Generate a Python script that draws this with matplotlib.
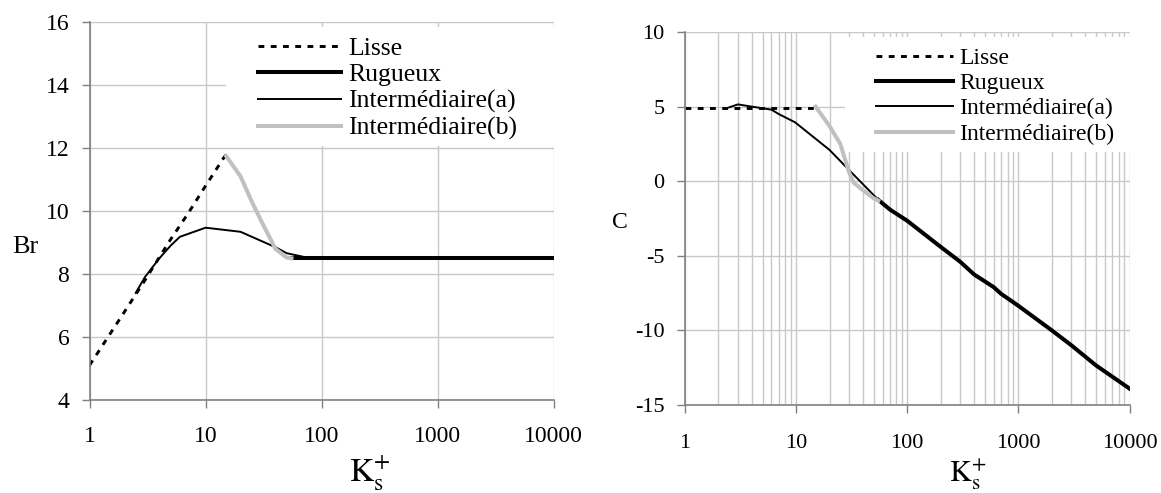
import numpy as np
import matplotlib as mpl
import matplotlib.pyplot as plt
from matplotlib.patches import Rectangle
from matplotlib.ticker import FixedLocator, NullFormatter, LogLocator
mpl.use('Agg')
mpl.rcParams['font.family'] = ['Liberation Serif', 'DejaVu Serif']
mpl.rcParams['mathtext.fontset'] = 'stix'
mpl.rcParams['axes.unicode_minus'] = False

# --- donnees Br (gauche) ---
ks_lisse_br = [1, 2, 3, 5, 7, 10, 15]
br_lisse = [5.1, 6.8, 7.8, 9.1, 9.9, 10.8, 11.8]
ks_rug_br = [55, 100, 1000, 10000]
br_rug = [8.5, 8.5, 8.5, 8.5]
ks_inta_br = [2.5, 3, 4, 5, 6, 10, 20, 40, 50, 75, 100]
br_inta = [7.4, 7.9, 8.5, 8.9, 9.18, 9.47, 9.34, 8.85, 8.66, 8.52, 8.5]
ks_intb_br = [15, 20, 25, 30, 40, 50, 55]
br_intb = [11.75, 11.1, 10.3, 9.7, 8.8, 8.52, 8.5]

# --- donnees C (droite) ---
ks_lisse_c = [1, 15]
c_lisse = [4.93, 4.93]
ks_rug_c = [55, 70, 100, 200, 300, 400, 600, 700, 1000, 2000, 3000, 5000, 10000]
c_rug = [-1.25, -1.9, -2.65, -4.4, -5.4, -6.25, -7.1, -7.55, -8.35, -10.0, -11.0, -12.35, -13.9]
ks_inta_c = [2.5, 3, 4, 6, 7, 9.8, 20, 30, 40, 55]
c_inta = [4.95, 5.15, 5.0, 4.8, 4.5, 3.95, 2.1, 0.75, -0.2, -1.25]
ks_intb_c = [15, 20, 25, 30, 33, 40, 50, 55]
c_intb = [5.0, 3.7, 2.5, 0.6, -0.1, -0.6, -1.15, -1.3]

labels = ['Lisse', 'Rugueux', 'Interm\u00e9diaire(a)', 'Interm\u00e9diaire(b)']
decades = [1, 10, 100, 1000, 10000]
grey = '#c0c0c0'
gridc = '#c8c8c8'

fig = plt.figure(figsize=(11.61, 4.93), dpi=100)
ax1 = fig.add_axes([0.0771, 0.1886, 0.3999, 0.7668])
ax2 = fig.add_axes([0.5899, 0.1785, 0.3830, 0.7565])


def style_axes(ax, yticks, ylim, fs_x, fs_y, xpad):
    ax.set_xscale('log')
    ax.set_xlim(1, 10000)
    ax.set_ylim(*ylim)
    ax.xaxis.set_major_locator(FixedLocator(decades))
    ax.set_xticklabels([str(d) for d in decades])
    ax.set_yticks(yticks)
    ax.set_yticklabels([str(v) for v in yticks])
    ax.xaxis.set_minor_formatter(NullFormatter())
    for s in ['top', 'right']:
        ax.spines[s].set_visible(False)
    for s in ['left', 'bottom']:
        ax.spines[s].set_color('#808080')
        ax.spines[s].set_linewidth(1.2)
    ax.tick_params(axis='both', which='major', direction='out', length=6,
                   width=1, color='#808080')
    ax.tick_params(axis='x', which='major', pad=xpad, labelsize=fs_x)
    ax.tick_params(axis='y', which='major', pad=8.5, labelsize=fs_y)
    ax.tick_params(axis='x', which='minor', length=0)
    ax.set_axisbelow(True)


def add_legend(ax, x, y, fs, ls, box):
    # fond blanc du cadre de legende (facon Excel, marges asymetriques)
    ax.add_patch(Rectangle((box[0], box[1]), box[2] - box[0], box[3] - box[1],
                           transform=ax.transAxes, facecolor='white',
                           edgecolor='none', zorder=1, clip_on=False))
    leg = ax.legend(labels, loc='upper left', bbox_to_anchor=(x, y), fontsize=fs,
                    frameon=False, handlelength=3.25, handletextpad=0.25,
                    labelspacing=ls, borderpad=0.3, borderaxespad=0)
    return leg


# ----- gauche -----
style_axes(ax1, [4, 6, 8, 10, 12, 14, 16], (4, 16), 17, 17, 13)
ax1.xaxis.set_minor_locator(FixedLocator([]))
ax1.grid(True, which='major', color=gridc, lw=1)
ax1.plot(ks_lisse_br, br_lisse, color='black', lw=2.1, dashes=(2, 2.2))
ax1.plot(ks_rug_br, br_rug, color='black', lw=2.9)
ax1.plot(ks_inta_br, br_inta, color='black', lw=1.4)
ax1.plot(ks_intb_br, br_intb, color=grey, lw=2.9)
add_legend(ax1, 0.346, 0.981, 18.5, 0.14, (0.294, 0.672, 1.003, 0.987))
ax1.text(-0.139, 0.405, 'Br', transform=ax1.transAxes, fontsize=19,
         ha='center', va='center')
ax1.text(0.604, -0.217, r'$\mathrm{K}_{\mathrm{s}}^{+}$', transform=ax1.transAxes,
         fontsize=24, ha='center', va='baseline')

# ----- droite -----
style_axes(ax2, [-15, -10, -5, 0, 5, 10], (-15, 10), 16, 16, 15)
ax2.xaxis.set_minor_locator(LogLocator(base=10, subs=np.arange(2, 10)))
ax2.grid(True, which='major', color=gridc, lw=1)
ax2.grid(True, which='minor', axis='x', color=gridc, lw=1)
ax2.plot(ks_lisse_c, c_lisse, color='black', lw=2.1, dashes=(2, 2.2))
ax2.plot(ks_rug_c, c_rug, color='black', lw=2.9)
ax2.plot(ks_inta_c, c_inta, color='black', lw=1.4)
ax2.plot(ks_intb_c, c_intb, color=grey, lw=2.9)
add_legend(ax2, 0.415, 0.978, 17, 0.16, (0.36, 0.678, 1.003, 0.987))
ax2.text(-0.146, 0.488, 'C', transform=ax2.transAxes, fontsize=17,
         ha='center', va='center')
ax2.text(0.637, -0.206, r'$\mathrm{K}_{\mathrm{s}}^{+}$', transform=ax2.transAxes,
         fontsize=21.5, ha='center', va='baseline')

fig.savefig('out.png', dpi=100)
